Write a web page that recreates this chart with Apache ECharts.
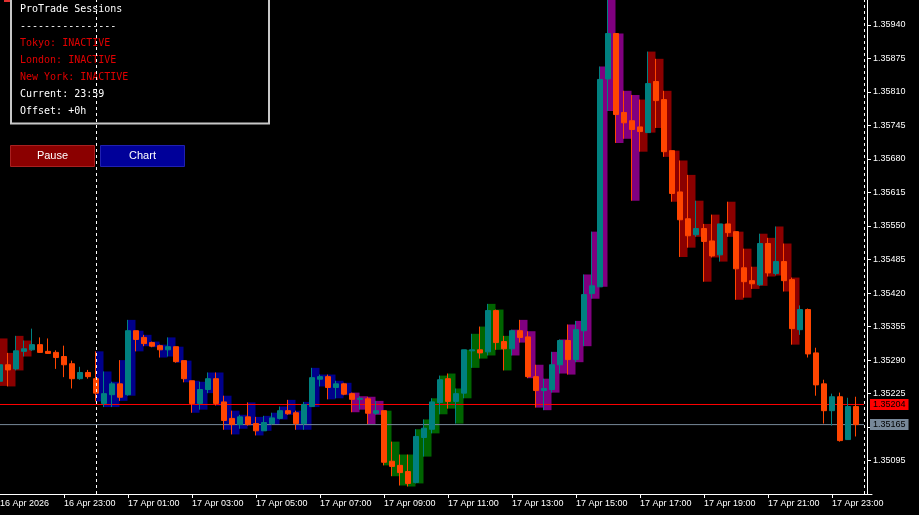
<!DOCTYPE html>
<html><head><meta charset="utf-8">
<script src="https://cdn.jsdelivr.net/npm/echarts@6/dist/echarts.min.js"></script>
<style>html,body{margin:0;padding:0;background:#000;}#c{width:919px;height:515px;}</style>
</head><body><div id="c"></div>
<script>
// ---- data (M15 bars, 16 Apr 2026 21:00 .. 17 Apr 2026 23:45) ----
const opens = [1.35249,1.35281,1.35273,1.35307,1.35310,1.35320,1.35307,1.35305,1.35297,1.35283,
1.35254,1.35266,1.35254,1.35206,1.35223,1.35244,1.35223,1.35347,1.35334,1.35324,
1.35318,1.35310,1.35316,1.35289,1.35250,1.35206,1.35233,1.35254,1.35209,1.35177,
1.35165,1.35180,1.35167,1.35153,1.35167,1.35177,1.35192,1.35188,1.35167,1.35200,
1.35253,1.35258,1.35237,1.35244,1.35225,1.35214,1.35215,1.35187,1.35192,1.35094,
1.35086,1.35074,1.35053,1.35140,1.35156,1.35208,1.35254,1.35210,1.35226,1.35308,
1.35310,1.35306,1.35386,1.35326,1.35312,1.35347,1.35335,1.35258,1.35231,1.35233,
1.35281,1.35328,1.35291,1.35347,1.35419,1.35432,1.35835,1.35923,1.35770,1.35754,
1.35742,1.35731,1.35830,1.35795,1.35696,1.35616,1.35564,1.35533,1.35545,1.35521,
1.35494,1.35554,1.35539,1.35469,1.35444,1.35436,1.35516,1.35458,1.35481,1.35446,
1.35349,1.35388,1.35304,1.35244,1.35192,1.35219,1.35136,1.35200];
const closes = [1.35281,1.35271,1.35308,1.35312,1.35320,1.35305,1.35303,1.35295,1.35281,1.35254,
1.35266,1.35258,1.35226,1.35225,1.35244,1.35218,1.35347,1.35330,1.35322,1.35317,
1.35310,1.35316,1.35287,1.35254,1.35206,1.35233,1.35254,1.35206,1.35173,1.35165,
1.35180,1.35165,1.35153,1.35169,1.35178,1.35192,1.35186,1.35167,1.35204,1.35256,
1.35258,1.35237,1.35244,1.35224,1.35214,1.35216,1.35187,1.35192,1.35092,1.35084,
1.35072,1.35051,1.35142,1.35158,1.35209,1.35252,1.35210,1.35225,1.35310,1.35310,
1.35304,1.35386,1.35324,1.35312,1.35347,1.35334,1.35258,1.35231,1.35235,1.35281,
1.35328,1.35291,1.35349,1.35417,1.35434,1.35834,1.35923,1.35766,1.35750,1.35737,
1.35733,1.35826,1.35793,1.35694,1.35613,1.35562,1.35531,1.35545,1.35520,1.35492,
1.35554,1.35537,1.35467,1.35442,1.35438,1.35516,1.35459,1.35481,1.35444,1.35351,
1.35388,1.35302,1.35242,1.35192,1.35219,1.35134,1.35200,1.35165];
const highs = [1.35332,1.35304,1.35337,1.35328,1.35351,1.35334,1.35332,1.35309,1.35318,1.35289,
1.35277,1.35271,1.35307,1.35268,1.35248,1.35290,1.35368,1.35347,1.35339,1.35326,
1.35320,1.35334,1.35316,1.35289,1.35250,1.35248,1.35266,1.35266,1.35221,1.35192,
1.35184,1.35208,1.35180,1.35182,1.35188,1.35200,1.35213,1.35192,1.35209,1.35275,
1.35262,1.35262,1.35250,1.35246,1.35227,1.35220,1.35219,1.35211,1.35192,1.35132,
1.35107,1.35107,1.35156,1.35175,1.35216,1.35260,1.35264,1.35235,1.35310,1.35341,
1.35355,1.35399,1.35388,1.35337,1.35349,1.35368,1.35346,1.35281,1.35254,1.35306,
1.35330,1.35359,1.35366,1.35456,1.35539,1.35859,1.35995,1.35923,1.35812,1.35804,
1.35795,1.35888,1.35874,1.35812,1.35696,1.35677,1.35649,1.35599,1.35554,1.35572,
1.35554,1.35597,1.35539,1.35506,1.35471,1.35535,1.35527,1.35549,1.35516,1.35450,
1.35396,1.35390,1.35314,1.35252,1.35225,1.35227,1.35217,1.35219];
const lows = [1.35240,1.35239,1.35270,1.35297,1.35308,1.35304,1.35302,1.35273,1.35257,1.35235,
1.35252,1.35254,1.35210,1.35199,1.35199,1.35211,1.35221,1.35307,1.35317,1.35315,
1.35295,1.35297,1.35285,1.35247,1.35188,1.35194,1.35226,1.35202,1.35155,1.35146,
1.35157,1.35163,1.35144,1.35153,1.35165,1.35175,1.35184,1.35155,1.35155,1.35199,
1.35239,1.35214,1.35216,1.35222,1.35189,1.35194,1.35166,1.35184,1.35086,1.35065,
1.35047,1.35045,1.35051,1.35103,1.35148,1.35185,1.35196,1.35167,1.35216,1.35275,
1.35293,1.35299,1.35310,1.35270,1.35299,1.35324,1.35255,1.35198,1.35193,1.35227,
1.35264,1.35262,1.35286,1.35317,1.35409,1.35432,1.35773,1.35711,1.35719,1.35599,
1.35694,1.35731,1.35740,1.35684,1.35597,1.35490,1.35508,1.35529,1.35442,1.35489,
1.35481,1.35529,1.35407,1.35411,1.35428,1.35434,1.35452,1.35454,1.35423,1.35320,
1.35339,1.35295,1.35221,1.35167,1.35163,1.35132,1.35136,1.35142];
const yTicks = [1.35095,1.35160,1.35225,1.35290,1.35355,1.35420,1.35485,1.35550,1.35615,1.35680,1.35745,1.35810,1.35875,1.35940];
const askPrice = 1.35204;
const bidPrice = 1.35165;
const daySeparators = ['17 Apr 00:00','18 Apr 00:00'];
const sessions = [{name:'Tokyo',start:0,end:9},{name:'London',start:8,end:17},{name:'New York',start:13,end:22}];
const sessionColors = {'Tokyo':'#00008B','London':'#006400','New York':'#8B0000','overlap':'#800080'};
const startYear = 2026, monthName = 'Apr', startDay = 16, startMinute = 21*60, barMinutes = 15, slotCount = 110;

// ---- build categories ----
const pad = n => (n<10?'0':'')+n;
const categories = [], hoursOfDay = [];
for (let i=0;i<slotCount;i++){
  const t = startMinute + barMinutes*i;
  const d = startDay + Math.floor(t/1440), m = t%1440;
  categories.push(d+' '+monthName+' '+pad(Math.floor(m/60))+':'+pad(m%60));
  hoursOfDay.push(m/60);
}
const candleData = opens.map((o,i)=>[o, closes[i], lows[i], highs[i]]);
const rangeData = [];
highs.forEach((h,i)=>{
  const hr = hoursOfDay[i];
  const act = sessions.filter(s=>hr>=s.start && hr<s.end);
  if(!act.length) return;
  const col = act.length>1 ? sessionColors.overlap : sessionColors[act[0].name];
  rangeData.push({value:[i, lows[i], h], itemStyle:{color:col}});
});
const lastBarCat = categories[opens.length];   // first empty slot after the last bar

const chart = echarts.init(document.getElementById('c'), null, {renderer:'canvas'});
const FONT = 'Liberation Sans, Arial, sans-serif';
function priceLine(price, color){
  return {type:'line', z:2, silent:true, symbol:'none', showSymbol:false, color:color,
    data:[[categories[0], price], [lastBarCat, price]],
    lineStyle:{color:color, width:1, type:'solid'},
    itemStyle:{color:color},
    emphasis:{disabled:true},
    endLabel:{show:true, distance:6, formatter:()=>price.toFixed(5), backgroundColor:color,
      color:'#000000', fontSize:9, fontFamily:FONT, padding:[1,3,1,3]}};
}
chart.setOption({
  animation:false,
  backgroundColor:'#000000',
  grid:{left:0, right:47, top:0, bottom:21, containLabel:false, outerBoundsMode:'none'},
  xAxis:{type:'category', data:categories, boundaryGap:false,
    axisLine:{show:true, lineStyle:{color:'#FFFFFF', width:1}},
    axisTick:{show:true, interval:(i)=>i%8===0 && i>0, length:4, lineStyle:{color:'#FFFFFF'}},
    axisLabel:{interval:(i)=>i%8===0, align:'left', margin:5, color:'#FFFFFF', fontSize:9, fontFamily:FONT,
      formatter:(v,idx)=> idx===0 ? (startDay+' '+monthName+' '+startYear) : v},
    splitLine:{show:false}},
  yAxis:{type:'value', position:'right', offset:-5, min:1.350305, max:1.35988, scale:true,
    axisLine:{show:true, lineStyle:{color:'#FFFFFF', width:1}},
    axisTick:{show:true, customValues:yTicks, length:4, lineStyle:{color:'#FFFFFF'}},
    axisLabel:{show:true, customValues:yTicks, formatter:v=>v.toFixed(5), color:'#FFFFFF', fontSize:9, fontFamily:FONT, margin:6},
    splitLine:{show:false}},
  series:[
    {type:'custom', z:1, data:rangeData, silent:true,
      renderItem:(params, api)=>{
        const i = api.value(0);
        const hi = api.coord([i, api.value(2)]);
        const lo = api.coord([i, api.value(1)]);
        const w = api.coord([i+1, api.value(2)])[0] - hi[0];
        const cs = params.coordSys;
        const shape = echarts.graphic.clipRectByRect(
          {x:hi[0]-0.5, y:hi[1], width:w, height:Math.max(1, lo[1]-hi[1])},
          {x:cs.x, y:cs.y, width:cs.width, height:cs.height});
        if(!shape) return null;
        return {type:'rect', shape:shape, style:{fill:api.visual('color')}};
      }},
    priceLine(askPrice, '#FF0000'),
    priceLine(bidPrice, '#778899'),
    {type:'candlestick', z:3, data:candleData, barWidth:5, silent:true,
      itemStyle:{color:'#008080', color0:'#FF4500', borderColor:'#008080', borderColor0:'#FF4500', borderWidth:1}},
    {type:'line', z:4, data:[], silent:true, symbol:'none', color:'#FFFFFF',
      markLine:{symbol:['none','none'], silent:true, animation:false,
        lineStyle:{color:'#FFFFFF', type:[3,3], width:1}, label:{show:false},
        data:[{xAxis:daySeparators[0]}, {xAxis:daySeparators[1]}]}}
  ],
  graphic:[
    {type:'rect', z:0, shape:{x:4,y:0,width:6,height:2}, style:{fill:'#E03030'}},
    {type:'rect', z:0, shape:{x:11,y:0,width:5,height:2}, style:{fill:'#3060E0'}},
    {type:'rect', z:0, shape:{x:25,y:0,width:5,height:2}, style:{fill:'#E03030'}},
    {type:'rect', z:0, shape:{x:32,y:0,width:6,height:2}, style:{fill:'#3060E0'}},
    {type:'rect', z:0, shape:{x:11,y:-10,width:258,height:133.5}, style:{fill:'#000000', stroke:'#C8C8C8', lineWidth:2}},
    {type:'text', z:0, x:20, y:9, style:{text:'ProTrade Sessions', fill:'#FFFFFF', font:'10px "DejaVu Sans Mono", monospace', verticalAlign:'middle'}},
    {type:'text', z:0, x:20, y:26, style:{text:'----------------', fill:'#FFFFFF', font:'10px "DejaVu Sans Mono", monospace', verticalAlign:'middle'}},
    {type:'text', z:0, x:20, y:43, style:{text:sessions[0].name+': INACTIVE', fill:'#E00000', font:'10px "DejaVu Sans Mono", monospace', verticalAlign:'middle'}},
    {type:'text', z:0, x:20, y:60, style:{text:sessions[1].name+': INACTIVE', fill:'#E00000', font:'10px "DejaVu Sans Mono", monospace', verticalAlign:'middle'}},
    {type:'text', z:0, x:20, y:77, style:{text:sessions[2].name+': INACTIVE', fill:'#E00000', font:'10px "DejaVu Sans Mono", monospace', verticalAlign:'middle'}},
    {type:'text', z:0, x:20, y:94, style:{text:'Current: 23:59', fill:'#FFFFFF', font:'10px "DejaVu Sans Mono", monospace', verticalAlign:'middle'}},
    {type:'text', z:0, x:20, y:111, style:{text:'Offset: +0h', fill:'#FFFFFF', font:'10px "DejaVu Sans Mono", monospace', verticalAlign:'middle'}},
    {type:'rect', z:0, shape:{x:10.5,y:145.5,width:84,height:21}, style:{fill:'#8B0000', stroke:'#A82020', lineWidth:1}},
    {type:'text', z:0, x:52.5, y:156, style:{text:'Pause', fill:'#FFFFFF', font:'11px "Liberation Sans", Arial, sans-serif', align:'center', verticalAlign:'middle'}},
    {type:'rect', z:0, shape:{x:100.5,y:145.5,width:84,height:21}, style:{fill:'#000099', stroke:'#2020B0', lineWidth:1}},
    {type:'text', z:0, x:142.5, y:156, style:{text:'Chart', fill:'#FFFFFF', font:'11px "Liberation Sans", Arial, sans-serif', align:'center', verticalAlign:'middle'}}
  ]
});
</script></body></html>
